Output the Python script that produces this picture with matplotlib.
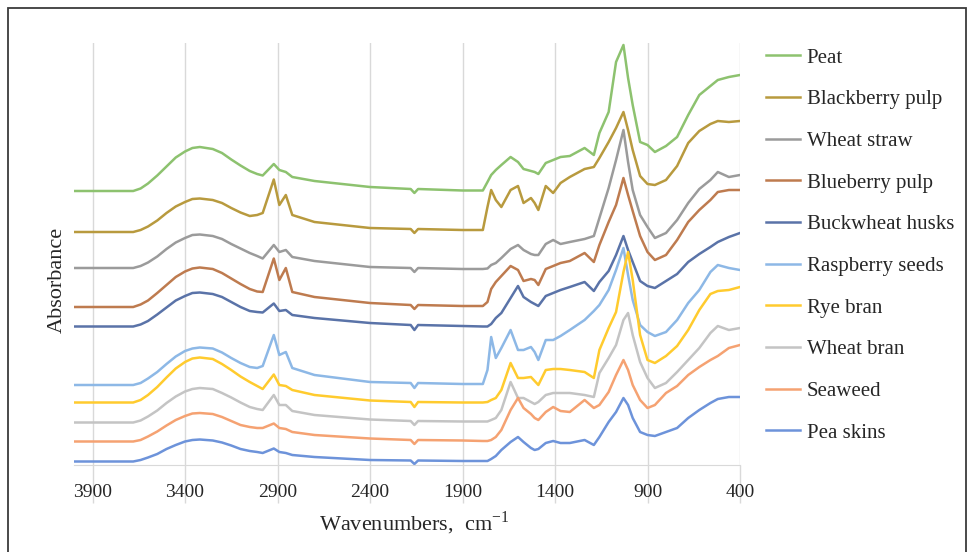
"""
FTIR spectra of ten biomass samples, stacked (offset) absorbance vs wavenumber.
Writes out.png (973x552).
"""

import matplotlib
matplotlib.use("Agg")
import matplotlib.pyplot as plt
from matplotlib.patches import Rectangle

# wavenumber grid (cm-1)
wavenumbers = [4000, 3800, 3680, 3640, 3600, 3550, 3500, 3450, 3400, 3360,
               3320, 3250, 3200, 3150, 3100, 3050, 3010, 2980,
               2920, 2890, 2855, 2820, 2700, 2400, 2180, 2160, 2140, 1900,
               1790, 1765, 1745, 1720, 1690, 1640, 1600, 1570, 1530, 1510,
               1490, 1450, 1410, 1370, 1320, 1240, 1190, 1160, 1110, 1070,
               1030, 1005, 980, 940, 900, 860, 800, 740, 680, 620,
               560, 520, 460, 400]

# stacked absorbance (arbitrary units, offsets included)
peat = [272, 272, 272, 274.5, 279.5, 287.5, 296.5, 305.5, 311.5, 315,
        316, 314, 310, 303.5, 297.5, 292, 289, 287.5,
        299, 293, 291, 286, 282, 276, 274, 270, 274, 272.5,
        272.5, 281, 288, 293, 298, 306, 301, 294, 292, 291,
        289, 300, 303, 306, 307, 315, 308, 330, 351, 401,
        418, 385, 358, 321, 318, 311, 317, 326, 348, 368,
        377, 383, 386, 388]
blackberry_pulp = [231, 231, 231, 233, 236.5, 242.5, 250, 256.5, 261, 264,
                   264.5, 263, 260, 255, 250.5, 247, 248, 250,
                   283.5, 258, 268, 248, 241, 235, 234, 230, 234, 233,
                   233, 256, 273, 263, 256, 273, 277, 260, 265, 260,
                   253, 277, 270, 280, 286, 294, 296, 305, 321, 335,
                   351, 333, 313, 287, 279, 278, 283, 297, 320, 332,
                   339, 342, 341, 342]
wheat_straw = [195, 195, 195, 197, 200.5, 206.5, 214, 220.5, 225, 228,
               228.5, 227, 224, 219, 214.5, 210, 207, 204.5,
               218, 211, 213, 206, 202, 196, 195, 191, 195, 194,
               194, 194.5, 198, 200, 205, 214, 218, 213, 209, 208,
               208, 219, 223, 219, 221, 224, 227, 245, 275, 303,
               333, 301, 273, 248, 236, 225, 230, 243, 260, 274,
               283, 291, 286, 288]
blueberry_pulp = [156, 156, 156, 158.5, 162.5, 170, 178, 186, 191.5, 194.5,
                  195.5, 194, 190, 184.5, 179, 174, 171.5, 171,
                  204.5, 183, 195, 171, 166, 160, 158, 154, 158, 157,
                  157, 161, 174, 181, 187, 197, 193, 182, 184, 183,
                  178, 194, 197, 200, 202, 210, 201, 218, 241, 258,
                  285, 268, 252, 227, 211, 203, 208, 223, 241, 253,
                  263, 271, 273, 273]
buckwheat_husks = [136.5, 136.5, 136.5, 138.5, 142, 148.5, 155.5, 162.5, 167, 170,
                   170.5, 169, 166, 161, 156, 152, 151, 150.5,
                   159.5, 152, 153, 148, 145, 140, 138, 133, 138, 137,
                   136.5, 136.5, 139, 145, 150, 165, 177, 166, 161, 159,
                   157, 167, 170, 173, 176, 181, 172, 181, 192, 208,
                   227, 213, 201, 182, 177, 175, 182, 189, 201, 209,
                   216, 221, 226, 230]
raspberry_seeds = [78, 78, 78, 80, 84.5, 91, 99, 106.5, 112, 114.5,
                   115.5, 114.5, 110.5, 105, 100, 96, 95, 97,
                   128, 108, 111, 95, 88, 81, 80, 75, 80, 79,
                   79, 93, 126, 105, 115, 133, 113, 113, 116, 111,
                   103, 123, 123, 127, 133, 143, 152, 158, 173, 193,
                   215, 188, 163, 138, 131, 127, 131, 143, 160, 173,
                   191, 198, 195, 193]
rye_bran = [60.5, 60.5, 60.5, 63, 68, 76, 85.5, 94.5, 101, 104.5,
            105.5, 104, 99, 93, 86.5, 81, 77, 74,
            88.5, 78, 77, 73, 68, 62.5, 61, 56, 61, 60.5,
            60.5, 61, 63, 65, 73, 100, 85, 85, 86, 82,
            78, 93, 94, 94, 93, 91, 85, 113, 135, 151,
            191, 211, 183, 128, 103, 100, 107, 117, 133, 153,
            169, 172, 173, 176]
wheat_bran = [40.5, 40.5, 40.5, 42.5, 46.5, 52.5, 60, 66.5, 71.5, 74,
              75, 74, 70, 65.5, 60.5, 56, 54, 53,
              68, 58, 58, 52, 48, 43.5, 42, 38, 42, 41.5,
              41.5, 41.5, 43, 45, 53, 81, 65, 65, 61, 59,
              61, 68, 70, 70, 70, 68, 66, 90, 105, 118,
              143, 150, 128, 101, 85, 75, 80, 91, 103, 115,
              130, 137, 133, 135]
seaweed = [21.5, 21.5, 21.5, 23, 26.5, 31.5, 37.5, 43, 47, 49.5,
           50, 49, 46, 42, 38, 36, 35, 35,
           39.5, 35, 34, 31, 28, 24.5, 23, 19, 23, 22.5,
           22, 22, 23, 26, 33, 53, 65, 55, 49, 45,
           43, 51, 56, 52, 51, 63, 55, 58, 71, 88,
           103, 93, 78, 63, 55, 58, 70, 77, 88, 96,
           103, 107, 115, 118]
pea_skins = [1.5, 1.5, 1.5, 3, 5.5, 9, 14, 18, 21.5, 23,
             23.5, 22.5, 20.5, 17.5, 14, 12, 11, 10,
             14.5, 11, 10, 8, 6, 3, 2.5, -1, 2.5, 2,
             2, 2, 4, 7, 13, 21, 26, 21, 15, 13,
             14, 20, 22, 20, 20, 23, 18, 26, 41, 51,
             65, 58, 45, 31, 28, 27, 31, 35, 45, 53,
             60, 64, 66, 66]

labels = ["Peat", "Blackberry pulp", "Wheat straw", "Blueberry pulp",
          "Buckwheat husks", "Raspberry seeds", "Rye bran", "Wheat bran",
          "Seaweed", "Pea skins"]
series = [peat, blackberry_pulp, wheat_straw, blueberry_pulp, buckwheat_husks,
          raspberry_seeds, rye_bran, wheat_bran, seaweed, pea_skins]
colors = ["#8DC26F", "#B89A3E", "#9B9B9B", "#BE7B4F", "#5A73A8",
          "#8DB8E6", "#FFCB2E", "#C4C4C4", "#F5A272", "#6D93DA"]

xticks = [3900, 3400, 2900, 2400, 1900, 1400, 900, 400]

W, H = 973, 552
GRID = "#d9d9d9"
TEXT = "#262626"


def make_figure():
    plt.rcParams["font.family"] = "Liberation Serif"
    plt.rcParams["mathtext.fontset"] = "custom"
    plt.rcParams["mathtext.rm"] = "Liberation Serif"

    fig = plt.figure(figsize=(W / 100, H / 100), dpi=100)
    # plot area in pixels: x 74..740, y 43..465
    ax = fig.add_axes([74 / W, (H - 465) / H, 666 / W, 422 / H])

    for vals, lab, col in zip(series, labels, colors):
        ax.plot(wavenumbers, vals, color=col, lw=1.8, label=lab,
                solid_joinstyle="round")

    ax.set_xlim(4000, 400)
    ax.set_ylim(-2, 420)
    ax.set_xticks(xticks)
    ax.set_xticklabels([str(t) for t in xticks])
    ax.set_yticks([])
    ax.grid(axis="x", color=GRID, lw=1)
    ax.set_axisbelow(True)
    for side in ("left", "top", "right"):
        ax.spines[side].set_visible(False)
    ax.spines["bottom"].set_color(GRID)
    ax.tick_params(axis="x", length=27, width=1, color=GRID, pad=-13,
                   labelsize=14, labelcolor=TEXT)

    fig.text(414 / W, 1 - 523 / H, "Wavenumbers,  cm$^{-1}$", fontsize=16,
             color=TEXT, ha="center", va="center")
    fig.text(57 / W, 1 - 280 / H, "Absorbance", fontsize=16, color=TEXT,
             rotation=90, ha="center", va="center")

    fig.legend(loc="upper left", bbox_to_anchor=(766 / W, 1 - 48 / H),
               frameon=False, fontsize=15, handlelength=1.65,
               handletextpad=0.3, labelspacing=1.06, borderpad=0,
               borderaxespad=0, labelcolor=TEXT)

    # outer frame (bottom edge falls outside the image)
    frame = Rectangle((8 / W, -0.05), 958 / W, 1.05 - 8 / H,
                      transform=fig.transFigure, fill=False,
                      edgecolor="#3a3a3a", lw=1.3, clip_on=False)
    fig.patches.append(frame)
    return fig


def main():
    fig = make_figure()
    fig.savefig("out.png", dpi=100)
    plt.close(fig)


if __name__ == "__main__":
    main()
